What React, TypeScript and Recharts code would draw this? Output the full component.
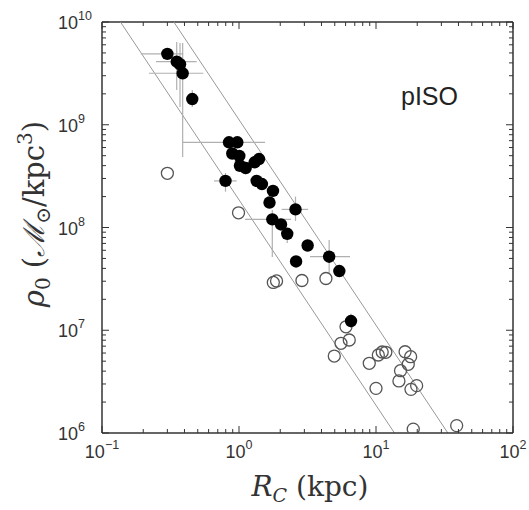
import React from "react";
import { ScatterChart, Scatter, XAxis, YAxis, ErrorBar, ReferenceLine } from "recharts";

// filled symbols: R_C (kpc) and rho_0 (M_sun / kpc^3)
const filledR = [0.3, 0.351, 0.371, 0.388, 0.456, 0.845, 0.972, 0.893, 1.005, 1.016, 1.119, 1.3, 1.4, 0.797, 1.346, 1.47, 1.77, 1.67, 2.585, 1.75, 2.026, 2.25, 3.17, 4.55, 2.61, 5.4, 6.57];
const filledRho = [4.89e9, 4.11e9, 3.88e9, 3.17e9, 1.78e9, 6.75e8, 6.75e8, 5.25e8, 4.97e8, 3.99e8, 3.79e8, 4.31e8, 4.64e8, 2.84e8, 2.84e8, 2.65e8, 2.27e8, 1.75e8, 1.5e8, 1.2e8, 1.07e8, 8.69e7, 6.68e7, 5.2e7, 4.67e7, 3.77e7, 1.23e7];

// error ranges [low, high] for the filled points that have them
const rRange: ([number, number] | null)[] = [
  [0.192, 0.392], [0.248, 0.491], null, [0.22, 0.549], null, [0.388, 1.55], null, null, null, null, null, null, null,
  [0.657, 0.962], null, null, null, null, [2.05, 3.19], [1.106, 2.4], null, null, null, [3.3, 6.46], null, null, [6.0, 7.3],
];
const rhoRange: ([number, number] | null)[] = [
  null, [2.18e9, 6.38e9], [1.49e9, 6.25e9], [4.86e8, 6.25e9], [1.49e9, 2.18e9], null, null, null, null, [3.5e8, 4.4e8], [3.3e8, 4.3e8], null, null,
  [2.23e8, 3.39e8], null, null, null, null, [1.16e8, 2.0e8], [5.16e7, 1.48e8], null, [7.06e7, 9.89e7], null, [3.61e7, 7.55e7], null, null, [1.05e7, 1.45e7],
];

// open symbols
const openR = [0.3, 0.992, 1.78, 1.88, 2.88, 4.31, 6.04, 6.38, 5.55, 4.96, 8.93, 10.4, 11.1, 11.8, 16.3, 17.9, 17.2, 15.1, 14.7, 19.8, 18.0, 10.0, 18.7, 38.8];
const openRho = [3.37e8, 1.39e8, 2.92e7, 3.02e7, 3.05e7, 3.19e7, 1.08e7, 8.04e6, 7.46e6, 5.61e6, 4.77e6, 5.74e6, 6.14e6, 6.1e6, 6.18e6, 5.53e6, 4.66e6, 4.04e6, 3.21e6, 2.89e6, 2.66e6, 2.72e6, 1.09e6, 1.18e6];

// the two guide lines rho * R^2 = const
const guideConst = [1.86e8, 1.12e9];

const xDomain = [0.1, 100];
const yDomain = [1e6, 1e10];

const logTicks = (lo: number, hi: number) => {
  const out: number[] = [];
  for (let e = Math.round(Math.log10(lo)); e < Math.round(Math.log10(hi)); e++) {
    for (let m = 1; m < 10; m++) out.push(m * Math.pow(10, e));
  }
  out.push(hi);
  return out;
};

const filledData = filledR.map((r, i) => ({
  r,
  rho: filledRho[i],
  rErr: rRange[i] ? [r - rRange[i]![0], rRange[i]![1] - r] : null,
  rhoErr: rhoRange[i] ? [filledRho[i] - rhoRange[i]![0], rhoRange[i]![1] - filledRho[i]] : null,
}));
const openData = openR.map((r, i) => ({ r, rho: openRho[i] }));

const PLOT = 411;
const AX = "#333";
const tickFont = "'Liberation Sans', Arial, sans-serif";

const expOf = (v: number) => {
  const l = Math.log10(v);
  const e = Math.round(l);
  return Math.abs(l - e) < 1e-6 ? e : null;
};
const expText = (e: number) => (e < 0 ? "\u2212" + -e : String(e));

const XTick = (props: any) => {
  const { x, y, payload } = props;
  const e = expOf(payload.value);
  const len = e !== null ? 7 : 4;
  return (
    <g>
      <line x1={x} x2={x} y1={y} y2={y - len} stroke={AX} />
      <line x1={x} x2={x} y1={y - PLOT} y2={y - PLOT + len} stroke={AX} />
      {e !== null && (
        <text x={x} y={y + 25} textAnchor="middle" fontSize={18} fill="#333" fontFamily={tickFont}>
          10<tspan dy={-9} fontSize={12.5}>{expText(e)}</tspan>
        </text>
      )}
    </g>
  );
};

const YTick = (props: any) => {
  const { x, y, payload } = props;
  const e = expOf(payload.value);
  const len = e !== null ? 7 : 4;
  return (
    <g>
      <line x1={x} x2={x + len} y1={y} y2={y} stroke={AX} />
      <line x1={x + PLOT} x2={x + PLOT - len} y1={y} y2={y} stroke={AX} />
      {e !== null && (
        <text x={x - 44} y={y + 7} textAnchor="start" fontSize={18} fill="#333" fontFamily={tickFont}>
          10<tspan dy={-9} fontSize={12.5}>{expText(e)}</tspan>
        </text>
      )}
    </g>
  );
};

const Dot = (props: any) => <circle cx={props.cx} cy={props.cy} r={6.2} fill="#000" />;
const Ring = (props: any) => <circle cx={props.cx} cy={props.cy} r={6} fill="none" stroke="#555" strokeWidth={1.3} />;

export default function App() {
  return (
    <div style={{ position: "absolute", left: 0, top: 0, width: 529, height: 510, background: "#fff" }}>
      <ScatterChart width={529} height={510} margin={{ top: 22, right: 16, bottom: 0, left: 0 }}>
        <XAxis
          type="number"
          dataKey="r"
          scale="log"
          domain={xDomain}
          allowDataOverflow
          ticks={logTicks(0.1, 100)}
          interval={0}
          tickSize={0}
          tickMargin={0}
          tick={<XTick />}
          height={77}
          axisLine={{ stroke: AX, strokeWidth: 1.5 }}
        />
        <YAxis
          type="number"
          dataKey="rho"
          scale="log"
          domain={yDomain}
          allowDataOverflow
          ticks={logTicks(1e6, 1e10)}
          interval={0}
          tickSize={0}
          tickMargin={0}
          tick={<YTick />}
          width={102}
          axisLine={{ stroke: AX, strokeWidth: 1.5 }}
        />
        <ReferenceLine y={1e10} stroke={AX} strokeWidth={1.5} />
        <ReferenceLine x={100} stroke={AX} strokeWidth={1.5} />
        {guideConst.map((k) => (
          <ReferenceLine
            key={k}
            ifOverflow="visible"
            segment={[
              { x: Math.sqrt(k / 1e10), y: 1e10 },
              { x: Math.sqrt(k / 1e6), y: 1e6 },
            ]}
            stroke="#999"
            strokeWidth={1}
          />
        ))}
        <Scatter data={openData} shape={<Ring />} isAnimationActive={false} />
        <Scatter data={filledData} shape={<Dot />} isAnimationActive={false}>
          <ErrorBar dataKey="rErr" direction="x" width={0} stroke="#b0b0b0" strokeWidth={1.2} />
          <ErrorBar dataKey="rhoErr" direction="y" width={0} stroke="#b0b0b0" strokeWidth={1.2} />
        </Scatter>
      </ScatterChart>
      <svg width={529} height={510} style={{ position: "absolute", left: 0, top: 0, pointerEvents: "none" }}>
        <text x={401} y={105} fontSize={25} fill="#222" fontFamily={tickFont}>pISO</text>
        <text x={310} y={496} textAnchor="middle" fontSize={28} fill="#333" fontFamily="'DejaVu Serif', serif">
          <tspan fontStyle="italic">R</tspan>
          <tspan fontSize={19} dy={6} fontStyle="italic">C</tspan>
          <tspan dy={-6}> (kpc)</tspan>
        </text>
        <text transform="translate(44,214) rotate(-90)" textAnchor="middle" fontSize={29} fill="#333" fontFamily="'DejaVu Serif', serif">
          <tspan fontStyle="italic">ρ</tspan>
          <tspan fontSize={20} dy={6}>0</tspan>
          <tspan dy={-6}> (</tspan>
          <tspan fontStyle="italic">ℳ</tspan>
          <tspan fontSize={20} dy={6}>⊙</tspan>
          <tspan dy={-6}>/kpc</tspan>
          <tspan fontSize={20} dy={-12}>3</tspan>
          <tspan dy={12}>)</tspan>
        </text>
      </svg>
    </div>
  );
}
